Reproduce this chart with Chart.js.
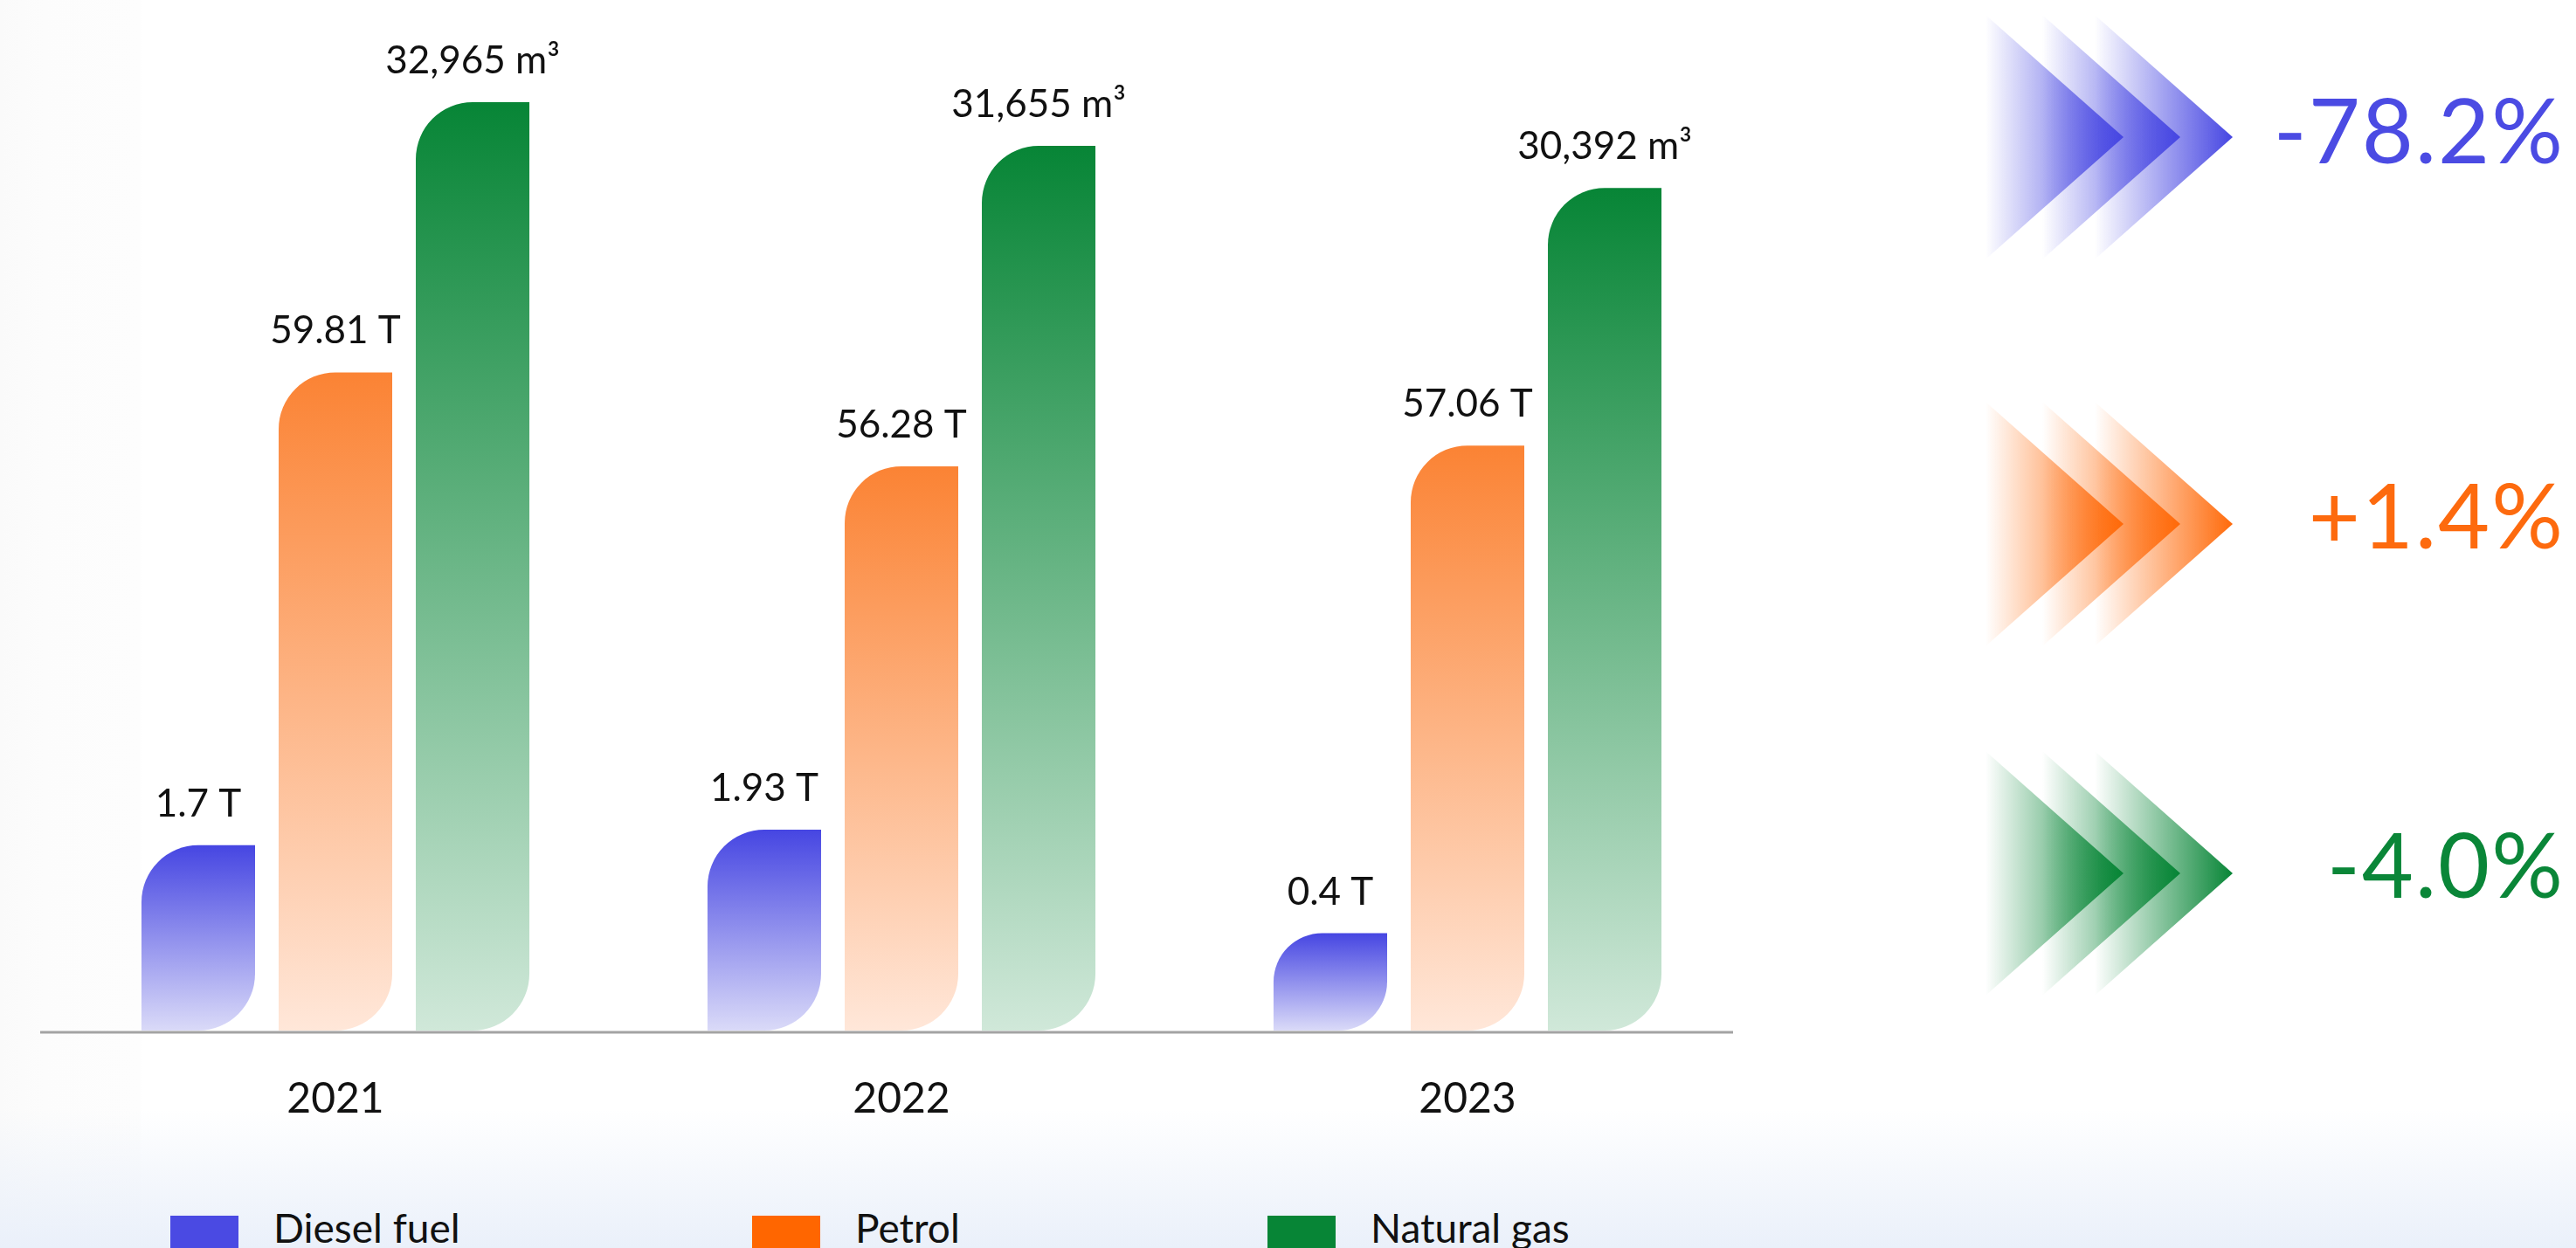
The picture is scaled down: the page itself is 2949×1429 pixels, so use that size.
<!DOCTYPE html>
<html>
<head>
<meta charset="utf-8">
<title>Fuel consumption 2021-2023</title>
<script src="https://cdn.jsdelivr.net/npm/chart.js@4.4.1/dist/chart.umd.min.js"></script>
<style>
  html, body {
    margin: 0;
    padding: 0;
    width: 2949px;
    height: 1429px;
    overflow: hidden;
    font-family: 'Lato', sans-serif;
    background: linear-gradient(to right, #fafafa 0, #fcfcfc 50px, #fdfdfd 160px, #ffffff 162px);
  }
  #fade {
    position: absolute;
    left: 0;
    top: 1270px;
    width: 2949px;
    height: 159px;
    background: linear-gradient(to bottom, rgba(236, 241, 250, 0), #eaf0fa);
  }
  #chartBox {
    position: absolute;
    left: 0;
    top: 0;
    width: 2060px;
    height: 1290px;
  }
  #arrows {
    position: absolute;
    left: 2200px;
    top: 0;
  }
  .change {
    position: absolute;
    right: 13px;
    font-size: 102px;
    line-height: 1;
    font-weight: 400;
    letter-spacing: 2px;
  }
  .legend-item {
    position: absolute;
    top: 1383px;
    display: flex;
    align-items: flex-start;
    color: #111;
    font-size: 46px;
    line-height: 1;
  }
  .legend-box {
    width: 78px;
    height: 78px;
    margin-top: 9px;
    margin-right: 40px;
  }
</style>
</head>
<body>
<div id="fade"></div>
<div id="chartBox"><canvas id="fuelChart"></canvas></div>
<canvas id="arrows" width="400" height="1429"></canvas>
<div id="changes"></div>
<div id="legend"></div>

<script>
'use strict';

// Data
var years = ['2021', '2022', '2023'];
var seriesNames = ['Diesel fuel', 'Petrol', 'Natural gas'];
var dieselFuel = [1.7, 1.93, 0.4];
var petrol = [59.81, 56.28, 57.06];
var naturalGas = [32965, 31655, 30392];
var changeLabels = ['-78.2%', '+1.4%', '-4.0%'];

// Colours: solid, bar top, bar bottom, text
var solidColors = ['#4a4ae3', '#ff6600', '#078536'];
var topColors = ['#4646e2', '#fb8334', '#078536'];
var bottomColors = ['#dadaf8', '#ffe7d9', '#d0e8d9'];
var textColors = ['#4b4be3', '#fd6a0e', '#0a8638'];
var arrowColors = ['70,70,226', '255,106,10', '7,133,54'];

// Each fuel has its own hidden value axis
var axisIds = ['yDiesel', 'yPetrol', 'yGas'];
var axisRanges = [
  { min: -1.04, max: 12.91 },
  { min: 35.06, max: 70.53 },
  { min: 5143, max: 33410 }
];

function formatValue(datasetIndex, value) {
  if (datasetIndex === 2) {
    return value.toLocaleString('en-US') + ' m\u00B3';
  }
  return value + ' T';
}

// Vertical gradient that runs from the top of each bar down to the baseline
function barFill(i) {
  return function (ctx) {
    var chart = ctx.chart;
    if (!chart.chartArea || ctx.type !== 'data') {
      return topColors[i];
    }
    var scale = chart.scales[axisIds[i]];
    var yTop = scale.getPixelForValue(ctx.raw);
    var g = chart.ctx.createLinearGradient(0, yTop, 0, chart.chartArea.bottom);
    g.addColorStop(0, topColors[i]);
    g.addColorStop(1, bottomColors[i]);
    return g;
  };
}

// Value labels above the bars
var valueLabels = {
  id: 'valueLabels',
  afterDatasetsDraw: function (chart) {
    var c = chart.ctx;
    c.save();
    c.font = '400 44px Lato';
    c.fillStyle = '#111';
    c.textAlign = 'center';
    c.textBaseline = 'alphabetic';
    chart.data.datasets.forEach(function (ds, i) {
      chart.getDatasetMeta(i).data.forEach(function (bar, j) {
        c.fillText(formatValue(i, ds.data[j]), bar.x, bar.y - 33);
      });
    });
    c.restore();
  }
};

// Grey baseline under the bars
var baseline = {
  id: 'baseline',
  afterDatasetsDraw: function (chart, args, opts) {
    var a = chart.chartArea;
    var c = chart.ctx;
    c.save();
    c.strokeStyle = opts.color;
    c.lineWidth = opts.width;
    c.beginPath();
    c.moveTo(a.left - opts.overhangLeft, a.bottom + 2);
    c.lineTo(a.right - opts.insetRight, a.bottom + 2);
    c.stroke();
    c.restore();
  }
};

var datasets = [dieselFuel, petrol, naturalGas].map(function (values, i) {
  return {
    label: seriesNames[i],
    data: values,
    yAxisID: axisIds[i],
    base: axisRanges[i].min,
    backgroundColor: barFill(i),
    borderWidth: 0,
    borderSkipped: false,
    borderRadius: { topLeft: 65, topRight: 0, bottomLeft: 0, bottomRight: 65 },
    categoryPercentage: 0.727,
    barPercentage: 0.828
  };
});

var scales = {
  x: {
    grid: { display: false, drawTicks: false },
    border: { display: false },
    ticks: {
      color: '#111',
      padding: 50,
      font: { family: 'Lato', size: 48 }
    },
    afterFit: function (scale) {
      scale.height = 110;
    }
  }
};
axisIds.forEach(function (id, i) {
  scales[id] = {
    display: false,
    min: axisRanges[i].min,
    max: axisRanges[i].max
  };
});

Chart.defaults.font.family = 'Lato';

var fuelChart = new Chart(document.getElementById('fuelChart'), {
  type: 'bar',
  data: {
    labels: years,
    datasets: datasets
  },
  options: {
    responsive: true,
    maintainAspectRatio: false,
    animation: false,
    layout: {
      padding: { left: 60, right: 56, top: 100, bottom: 0 }
    },
    scales: scales,
    plugins: {
      legend: { display: false },
      tooltip: { enabled: false },
      baseline: { color: '#a3a3a3', width: 3, overhangLeft: 14, insetRight: 20 }
    }
  },
  plugins: [valueLabels, baseline]
});

// Legend along the bottom
var legendLefts = [195, 861, 1451];
var legend = document.getElementById('legend');
seriesNames.forEach(function (name, i) {
  var item = document.createElement('div');
  item.className = 'legend-item';
  item.style.left = legendLefts[i] + 'px';
  var box = document.createElement('div');
  box.className = 'legend-box';
  box.style.background = solidColors[i];
  var text = document.createElement('span');
  text.textContent = name;
  item.appendChild(box);
  item.appendChild(text);
  legend.appendChild(item);
});

// Change percentages on the right
var changeTops = [97, 538, 938];
var changes = document.getElementById('changes');
changeLabels.forEach(function (label, i) {
  var el = document.createElement('div');
  el.className = 'change';
  el.style.top = changeTops[i] + 'px';
  el.style.color = textColors[i];
  el.textContent = label;
  changes.appendChild(el);
});

// Triple chevrons next to each percentage
function drawChevrons() {
  var canvas = document.getElementById('arrows');
  var c = canvas.getContext('2d');
  var centers = [157, 600, 1000];
  var lefts = [73, 138, 198];
  var width = 158;
  var half = 140;
  centers.forEach(function (cy, i) {
    var rgb = arrowColors[i];
    lefts.forEach(function (x0) {
      var g = c.createLinearGradient(x0, 0, x0 + width, 0);
      g.addColorStop(0, 'rgba(' + rgb + ',0)');
      g.addColorStop(0.45, 'rgba(' + rgb + ',0.45)');
      g.addColorStop(1, 'rgba(' + rgb + ',1)');
      c.fillStyle = g;
      c.beginPath();
      c.moveTo(x0, cy - half);
      c.lineTo(x0 + width, cy);
      c.lineTo(x0, cy + half);
      c.closePath();
      c.fill();
    });
  });
}
drawChevrons();
</script>
</body>
</html>
